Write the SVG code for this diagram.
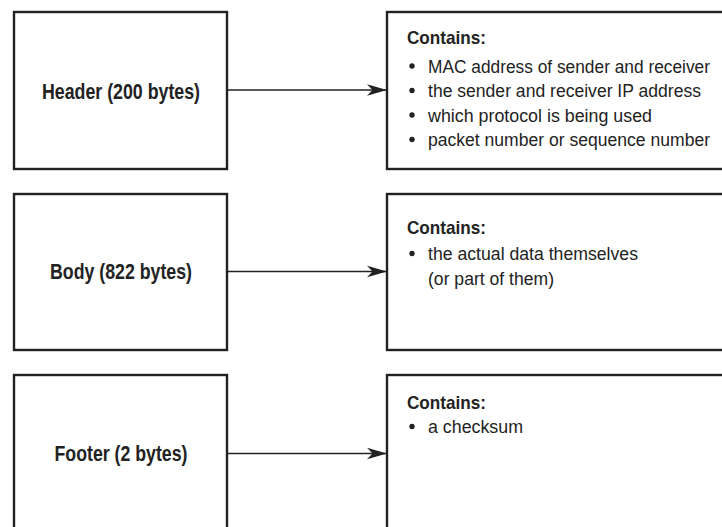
<svg xmlns="http://www.w3.org/2000/svg" width="722" height="527" viewBox="0 0 722 527">
<style>
.box{fill:#fff;stroke:#222;stroke-width:2.4}
.lbl{font-family:"Liberation Sans",Arial,sans-serif;font-weight:bold;font-size:22px;fill:#222;text-anchor:middle}
.hd{font-family:"Liberation Sans",Arial,sans-serif;font-weight:bold;font-size:19px;fill:#222}
.tx{font-family:"Liberation Sans",Arial,sans-serif;font-size:17.5px;fill:#222}
.conn{stroke:#222;stroke-width:1.5;fill:none}
.dot{fill:#222}
</style>
<defs>
<marker id="ah" markerUnits="userSpaceOnUse" markerWidth="21" markerHeight="13" refX="20" refY="6.5" orient="auto">
<path d="M0,0.8 L20,6.5 L0,12.2 L5.5,6.5 Z" fill="#222"/>
</marker>
</defs>
<rect width="722" height="527" fill="#fff"/>
<g id="header">
<rect class="box" x="14" y="12" width="213" height="157"/>
<text class="lbl" x="121" y="98.5" textLength="158" lengthAdjust="spacingAndGlyphs">Header (200 bytes)</text>
</g>
<g id="header-contents">
<rect class="box" x="387" y="12" width="345" height="157"/>
<text class="hd" x="407" y="44" textLength="79" lengthAdjust="spacingAndGlyphs">Contains:</text>
<circle class="dot" cx="412" cy="66" r="2.7"/>
<text class="tx" x="428" y="72.5" textLength="282" lengthAdjust="spacingAndGlyphs">MAC address of sender and receiver</text>
<circle class="dot" cx="412" cy="90.5" r="2.7"/>
<text class="tx" x="428" y="97" textLength="273" lengthAdjust="spacingAndGlyphs">the sender and receiver IP address</text>
<circle class="dot" cx="412" cy="115" r="2.7"/>
<text class="tx" x="428" y="121.5" textLength="224" lengthAdjust="spacingAndGlyphs">which protocol is being used</text>
<circle class="dot" cx="412" cy="139.5" r="2.7"/>
<text class="tx" x="428" y="146" textLength="282" lengthAdjust="spacingAndGlyphs">packet number or sequence number</text>
</g>
<g id="body">
<rect class="box" x="14" y="194" width="213" height="156"/>
<text class="lbl" x="121" y="279" textLength="142" lengthAdjust="spacingAndGlyphs">Body (822 bytes)</text>
</g>
<g id="body-contents">
<rect class="box" x="387" y="194" width="345" height="156"/>
<text class="hd" x="407" y="234" textLength="79" lengthAdjust="spacingAndGlyphs">Contains:</text>
<circle class="dot" cx="412" cy="253.5" r="2.7"/>
<text class="tx" x="428" y="260" textLength="210" lengthAdjust="spacingAndGlyphs">the actual data themselves</text>
<text class="tx" x="428" y="284.5" textLength="126" lengthAdjust="spacingAndGlyphs">(or part of them)</text>
</g>
<g id="footer">
<rect class="box" x="14" y="375" width="213" height="170"/>
<text class="lbl" x="121" y="461" textLength="133" lengthAdjust="spacingAndGlyphs">Footer (2 bytes)</text>
</g>
<g id="footer-contents">
<rect class="box" x="387" y="375" width="345" height="170"/>
<text class="hd" x="407" y="409" textLength="79" lengthAdjust="spacingAndGlyphs">Contains:</text>
<circle class="dot" cx="412" cy="426.5" r="2.7"/>
<text class="tx" x="428" y="433" textLength="95" lengthAdjust="spacingAndGlyphs">a checksum</text>
</g>
<g id="connectors">
<line class="conn" x1="227" y1="90" x2="387" y2="90" marker-end="url(#ah)"/>
<line class="conn" x1="227" y1="271.5" x2="387" y2="271.5" marker-end="url(#ah)"/>
<line class="conn" x1="227" y1="453.5" x2="387" y2="453.5" marker-end="url(#ah)"/>
</g>
</svg>
